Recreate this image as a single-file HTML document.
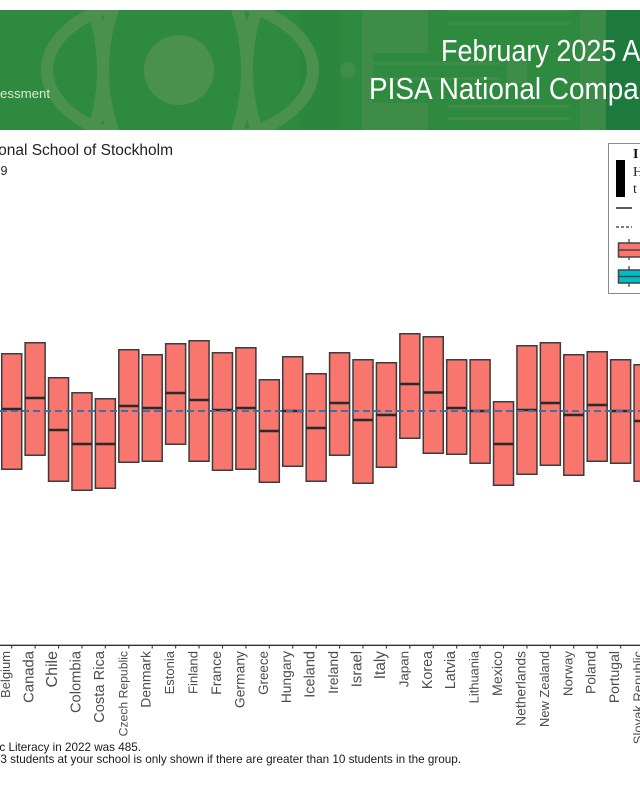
<!DOCTYPE html>
<html><head><meta charset="utf-8"><style>
html,body{margin:0;padding:0;background:#fff;}
svg{display:block;}
text{font-family:"Liberation Sans",Arial,sans-serif;}
</style></head><body>
<svg width="640" height="800" viewBox="0 0 640 800" xmlns="http://www.w3.org/2000/svg">
<defs>
<clipPath id="bn"><rect x="0" y="10" width="640" height="120"/></clipPath>
<clipPath id="cl1"><rect x="70" y="10" width="60" height="120"/></clipPath>
<clipPath id="cl2"><rect x="220" y="10" width="60" height="120"/></clipPath>
</defs>
<rect width="640" height="800" fill="#fff"/>
<!-- Banner -->
<g clip-path="url(#bn)">
<rect x="0" y="10" width="640" height="120" fill="#2e8a3f"/>
<rect x="300" y="10" width="40" height="120" fill="#2c873e"/>
<rect x="580" y="10" width="26" height="120" fill="#3b8a47"/>
<rect x="606" y="10" width="34" height="120" fill="#1d7a3c"/>
<g fill="none" stroke="#4a914e" stroke-width="12">
<ellipse cx="180" cy="70" rx="133" ry="75"/>
<ellipse cx="175" cy="70" rx="72" ry="120"/>
<ellipse cx="31" cy="70" rx="72" ry="120" clip-path="url(#cl1)"/>
<ellipse cx="319" cy="70" rx="72" ry="120" clip-path="url(#cl2)"/>
</g>
<circle cx="179" cy="70" r="35" fill="#4a914e"/>
<circle cx="348" cy="70" r="8" fill="#3f8d48"/>
<g fill="#3e8c47">
<rect x="362" y="10" width="11" height="120"/>
<rect x="373" y="10" width="55" height="43"/>
<rect x="373" y="103" width="55" height="27"/>
<rect x="507" y="60" width="20" height="23"/>
<rect x="447" y="22" width="123" height="3"/>
<rect x="447" y="10" width="123" height="2"/>
<rect x="373" y="62" width="127" height="3"/>
<rect x="373" y="77" width="127" height="3"/>
<rect x="447" y="105" width="123" height="3"/>
<rect x="447" y="117" width="123" height="3"/>
</g>
<text x="0" y="98" font-size="13" fill="#d9ead9" textLength="50" lengthAdjust="spacingAndGlyphs">essment</text>
<text x="441" y="61" font-size="31" fill="#fff" transform="translate(441,0) scale(0.87,1) translate(-441,0)">February 2025 Assessment</text>
<text x="369" y="99" font-size="31" fill="#fff" transform="translate(369,0) scale(0.90,1) translate(-369,0)">PISA National Comparison</text>
</g>
<!-- Titles -->
<text x="173" y="155" font-size="15.5" fill="#222" text-anchor="end">onal School of Stockholm</text>
<text x="7.5" y="175" font-size="12.6" fill="#222" text-anchor="end">9</text>
<!-- Legend -->
<rect x="608.5" y="143.5" width="40" height="150" fill="#fff" stroke="#8a8a8a" stroke-width="1"/>
<text x="633" y="158" font-size="14" font-weight="bold" fill="#111" style="font-family:'Liberation Serif',serif">I</text>
<text x="633" y="176" font-size="14" fill="#222" style="font-family:'Liberation Serif',serif">H</text>
<text x="633" y="193" font-size="14" fill="#222" style="font-family:'Liberation Serif',serif">t</text>
<rect x="616" y="160" width="9" height="37" fill="#000"/>
<line x1="616" y1="208" x2="632" y2="208" stroke="#000" stroke-width="1.3"/>
<line x1="616" y1="227" x2="632" y2="227" stroke="#000" stroke-width="1" stroke-dasharray="3 2"/>
<line x1="629" y1="239" x2="629" y2="260" stroke="#444" stroke-width="1.3"/>
<rect x="618.5" y="243" width="30" height="14" fill="#F8766D" stroke="#444" stroke-width="1.5"/>
<line x1="618.5" y1="250" x2="648" y2="250" stroke="#444" stroke-width="1.5"/>
<line x1="629" y1="266" x2="629" y2="287" stroke="#444" stroke-width="1.3"/>
<rect x="618.5" y="270" width="30" height="13" fill="#00BFC4" stroke="#444" stroke-width="1.5"/>
<line x1="618.5" y1="276.5" x2="648" y2="276.5" stroke="#444" stroke-width="1.5"/>
<!-- Boxes -->
<g fill="#F8766D" stroke="#3c3c3c" stroke-width="1.5">
<rect x="1.70" y="353.75" width="20" height="115.5"/>
<rect x="25.12" y="342.75" width="20" height="112.5"/>
<rect x="48.54" y="377.75" width="20" height="103.5"/>
<rect x="71.96" y="392.75" width="20" height="97.5"/>
<rect x="95.38" y="398.75" width="20" height="89.5"/>
<rect x="118.80" y="349.75" width="20" height="112.5"/>
<rect x="142.22" y="354.75" width="20" height="106.5"/>
<rect x="165.64" y="343.75" width="20" height="100.5"/>
<rect x="189.06" y="340.75" width="20" height="120.5"/>
<rect x="212.48" y="352.75" width="20" height="117.5"/>
<rect x="235.90" y="347.75" width="20" height="121.5"/>
<rect x="259.32" y="379.75" width="20" height="102.5"/>
<rect x="282.74" y="356.75" width="20" height="109.5"/>
<rect x="306.16" y="373.75" width="20" height="107.5"/>
<rect x="329.58" y="352.75" width="20" height="102.5"/>
<rect x="353.00" y="359.75" width="20" height="123.5"/>
<rect x="376.42" y="362.75" width="20" height="104.5"/>
<rect x="399.84" y="333.75" width="20" height="104.5"/>
<rect x="423.26" y="336.75" width="20" height="116.5"/>
<rect x="446.68" y="359.75" width="20" height="94.5"/>
<rect x="470.10" y="359.75" width="20" height="103.5"/>
<rect x="493.52" y="401.75" width="20" height="83.5"/>
<rect x="516.94" y="345.75" width="20" height="128.5"/>
<rect x="540.36" y="342.75" width="20" height="122.5"/>
<rect x="563.78" y="354.75" width="20" height="120.5"/>
<rect x="587.20" y="351.75" width="20" height="109.5"/>
<rect x="610.62" y="359.75" width="20" height="103.5"/>
<rect x="634.04" y="364.75" width="20" height="116.5"/>
</g>
<g stroke="#2a2a2a" stroke-width="2.6">
<line x1="1.70" y1="409" x2="21.70" y2="409"/>
<line x1="25.12" y1="398" x2="45.12" y2="398"/>
<line x1="48.54" y1="430" x2="68.54" y2="430"/>
<line x1="71.96" y1="444" x2="91.96" y2="444"/>
<line x1="95.38" y1="444" x2="115.38" y2="444"/>
<line x1="118.80" y1="406" x2="138.80" y2="406"/>
<line x1="142.22" y1="408" x2="162.22" y2="408"/>
<line x1="165.64" y1="393" x2="185.64" y2="393"/>
<line x1="189.06" y1="400" x2="209.06" y2="400"/>
<line x1="212.48" y1="410" x2="232.48" y2="410"/>
<line x1="235.90" y1="408" x2="255.90" y2="408"/>
<line x1="259.32" y1="431" x2="279.32" y2="431"/>
<line x1="282.74" y1="411" x2="302.74" y2="411"/>
<line x1="306.16" y1="428" x2="326.16" y2="428"/>
<line x1="329.58" y1="403" x2="349.58" y2="403"/>
<line x1="353.00" y1="420" x2="373.00" y2="420"/>
<line x1="376.42" y1="415" x2="396.42" y2="415"/>
<line x1="399.84" y1="384" x2="419.84" y2="384"/>
<line x1="423.26" y1="392.5" x2="443.26" y2="392.5"/>
<line x1="446.68" y1="408" x2="466.68" y2="408"/>
<line x1="470.10" y1="411" x2="490.10" y2="411"/>
<line x1="493.52" y1="444" x2="513.52" y2="444"/>
<line x1="516.94" y1="410" x2="536.94" y2="410"/>
<line x1="540.36" y1="403" x2="560.36" y2="403"/>
<line x1="563.78" y1="415" x2="583.78" y2="415"/>
<line x1="587.20" y1="405" x2="607.20" y2="405"/>
<line x1="610.62" y1="411" x2="630.62" y2="411"/>
<line x1="634.04" y1="421" x2="654.04" y2="421"/>
</g>
<!-- Reference dashed line -->
<line x1="0" y1="411" x2="640" y2="411" stroke="#3f6fa6" stroke-width="2" stroke-dasharray="7 4"/>
<!-- Axis -->
<line x1="0" y1="645.3" x2="640" y2="645.3" stroke="#333" stroke-width="1.3"/>
<g stroke="#333" stroke-width="1.1">
<line x1="11.70" y1="645" x2="11.70" y2="648.5"/>
<line x1="35.12" y1="645" x2="35.12" y2="648.5"/>
<line x1="58.54" y1="645" x2="58.54" y2="648.5"/>
<line x1="81.96" y1="645" x2="81.96" y2="648.5"/>
<line x1="105.38" y1="645" x2="105.38" y2="648.5"/>
<line x1="128.80" y1="645" x2="128.80" y2="648.5"/>
<line x1="152.22" y1="645" x2="152.22" y2="648.5"/>
<line x1="175.64" y1="645" x2="175.64" y2="648.5"/>
<line x1="199.06" y1="645" x2="199.06" y2="648.5"/>
<line x1="222.48" y1="645" x2="222.48" y2="648.5"/>
<line x1="245.90" y1="645" x2="245.90" y2="648.5"/>
<line x1="269.32" y1="645" x2="269.32" y2="648.5"/>
<line x1="292.74" y1="645" x2="292.74" y2="648.5"/>
<line x1="316.16" y1="645" x2="316.16" y2="648.5"/>
<line x1="339.58" y1="645" x2="339.58" y2="648.5"/>
<line x1="363.00" y1="645" x2="363.00" y2="648.5"/>
<line x1="386.42" y1="645" x2="386.42" y2="648.5"/>
<line x1="409.84" y1="645" x2="409.84" y2="648.5"/>
<line x1="433.26" y1="645" x2="433.26" y2="648.5"/>
<line x1="456.68" y1="645" x2="456.68" y2="648.5"/>
<line x1="480.10" y1="645" x2="480.10" y2="648.5"/>
<line x1="503.52" y1="645" x2="503.52" y2="648.5"/>
<line x1="526.94" y1="645" x2="526.94" y2="648.5"/>
<line x1="550.36" y1="645" x2="550.36" y2="648.5"/>
<line x1="573.78" y1="645" x2="573.78" y2="648.5"/>
<line x1="597.20" y1="645" x2="597.20" y2="648.5"/>
<line x1="620.62" y1="645" x2="620.62" y2="648.5"/>
</g>
<g fill="#4d4d4d" text-anchor="end">
<text font-size="13" transform="translate(10.2,651) rotate(-90)">Belgium</text>
<text font-size="14.8" transform="translate(33.6,651) rotate(-90)">Canada</text>
<text font-size="16" transform="translate(57.0,651) rotate(-90)">Chile</text>
<text font-size="14.7" transform="translate(80.5,651) rotate(-90)">Colombia</text>
<text font-size="14.7" transform="translate(103.9,651) rotate(-90)">Costa Rica</text>
<text font-size="12.2" transform="translate(127.3,651) rotate(-90)">Czech Republic</text>
<text font-size="14" transform="translate(150.7,651) rotate(-90)">Denmark</text>
<text font-size="13" transform="translate(174.1,651) rotate(-90)">Estonia</text>
<text font-size="13.1" transform="translate(197.6,651) rotate(-90)">Finland</text>
<text font-size="14.1" transform="translate(221.0,651) rotate(-90)">France</text>
<text font-size="13.9" transform="translate(244.4,651) rotate(-90)">Germany</text>
<text font-size="13.4" transform="translate(267.8,651) rotate(-90)">Greece</text>
<text font-size="13.8" transform="translate(291.2,651) rotate(-90)">Hungary</text>
<text font-size="14.5" transform="translate(314.7,651) rotate(-90)">Iceland</text>
<text font-size="14" transform="translate(338.1,651) rotate(-90)">Ireland</text>
<text font-size="14.8" transform="translate(361.5,651) rotate(-90)">Israel</text>
<text font-size="15.4" transform="translate(384.9,651) rotate(-90)">Italy</text>
<text font-size="13.3" transform="translate(408.3,651) rotate(-90)">Japan</text>
<text font-size="14.3" transform="translate(431.8,651) rotate(-90)">Korea</text>
<text font-size="14.3" transform="translate(455.2,651) rotate(-90)">Latvia</text>
<text font-size="12.9" transform="translate(478.6,651) rotate(-90)">Lithuania</text>
<text font-size="14.2" transform="translate(502.0,651) rotate(-90)">Mexico</text>
<text font-size="13.9" transform="translate(525.4,651) rotate(-90)">Netherlands</text>
<text font-size="12.9" transform="translate(548.9,651) rotate(-90)">New Zealand</text>
<text font-size="13.3" transform="translate(572.3,651) rotate(-90)">Norway</text>
<text font-size="13.8" transform="translate(595.7,651) rotate(-90)">Poland</text>
<text font-size="14" transform="translate(619.1,651) rotate(-90)">Portugal</text>
<text font-size="13" transform="translate(642.5,651) rotate(-90)">Slovak Republic</text>
</g>
<!-- Footnotes -->
<text x="141" y="751" font-size="11.7" fill="#1a1a1a" text-anchor="end">c Literacy in 2022 was 485.</text>
<text x="461" y="763" font-size="11.7" fill="#1a1a1a" text-anchor="end">3 students at your school is only shown if there are greater than 10 students in the group.</text>
</svg>
</body></html>
